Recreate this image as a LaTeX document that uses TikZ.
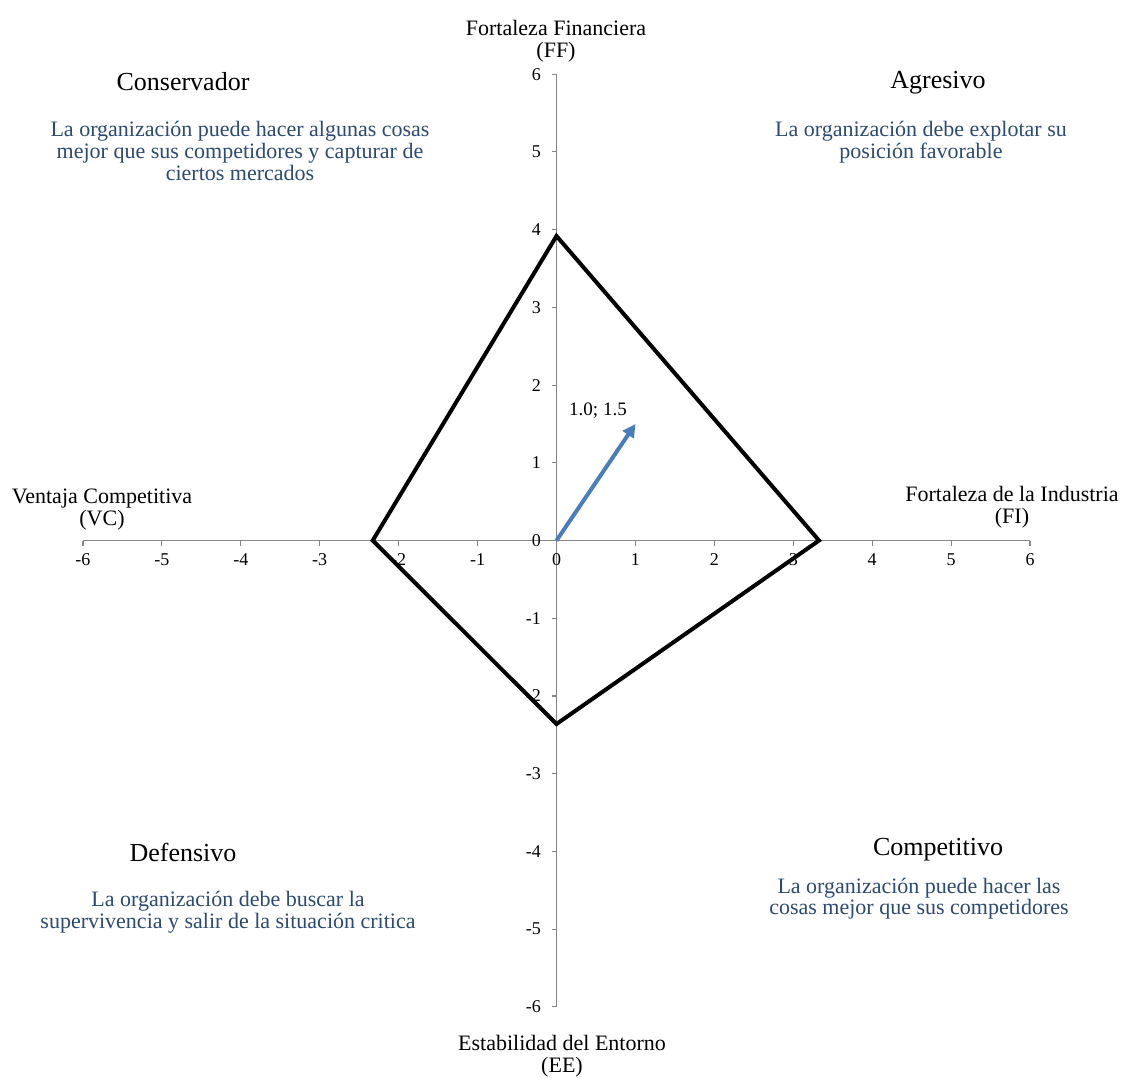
\documentclass[tikz,border=0pt]{standalone}
\usepackage{fontspec}
\setmainfont{Liberation Serif}
\usetikzlibrary{arrows.meta}
\definecolor{axisgray}{RGB}{134,134,134}
\definecolor{bodyblue}{RGB}{44,74,116}
\definecolor{arrowblue}{RGB}{74,126,187}
\begin{document}
\begin{tikzpicture}[x=1pt,y=-1pt,
  axisline/.style={draw=axisgray,line width=1.3pt},
  tickmark/.style={draw=axisgray,line width=1.1pt},
  ticklab/.style={font=\fontsize{18}{18}\selectfont,inner sep=0pt},
  axislabel/.style={font=\fontsize{22}{22}\selectfont,align=center,inner sep=0pt},
  quadtitle/.style={font=\fontsize{26}{26}\selectfont,inner sep=0pt,anchor=base},
  quadtext/.style={font=\fontsize{22}{22}\selectfont,align=center,inner sep=0pt,text=bodyblue},
  diamondline/.style={draw=black,line width=4pt,line join=miter},
  vecarrow/.style={draw=arrowblue,line width=4pt,-{Triangle[length=13pt,width=13pt]}}]
\fill[white] (0,0) rectangle (1123,1077);
\path[use as bounding box] (0,0) rectangle (1123,1077);

% axes
\coordinate (XL) at (83,540.5);
\coordinate (XR) at (1030,540.5);
\coordinate (YT) at (556.5,74);
\coordinate (YB) at (556.5,1006.7);
\draw[axisline] (XL) -- (XR);
\draw[axisline] (YT) -- (YB);

\foreach \i in {-6,...,6} {
  \draw[tickmark] ({556.5+\i*78.92},540.5) -- ++(0,5);
  \draw[tickmark] (556.5,{540.5-\i*77.72}) -- ++(-5,0);
  \node[ticklab] (xt\i) at ({556.5+\i*78.92},560) {\i};
  \node[ticklab,anchor=east] (yt\i) at (541,{540.5-\i*77.72}) {\i};
}

% axis labels
\node[axislabel] (ff) at (556,41) {Fortaleza Financiera\\(FF)};
\node[axislabel] (ee) at (562,1056) {Estabilidad del Entorno\\(EE)};
\node[axislabel] (vc) at (102,510) {Ventaja Competitiva\\(VC)};
\node[axislabel] (fi) at (1012,507) {Fortaleza de la Industria\\(FI)};

% quadrant titles
\node[quadtitle] (tcons) at (183,90) {Conservador};
\node[quadtitle] (tagr) at (938,88) {Agresivo};
\node[quadtitle] (tcomp) at (938,855) {Competitivo};
\node[quadtitle] (tdef) at (183,861) {Defensivo};

% quadrant texts
\node[quadtext] (bcons) at (240,151) {La organización puede hacer algunas cosas\\mejor que sus competidores y capturar de\\ciertos mercados};
\node[quadtext] (bagr) at (921,142) {La organización debe explotar su\\posición favorable};
\node[quadtext,font=\fontsize{22}{18}\selectfont] (bcomp) at (919,899) {La organización puede hacer las\\cosas mejor que sus competidores};
\node[quadtext] (bdef) at (228,912) {La organización debe buscar la\\supervivencia y salir de la situación critica};

% diamond
\coordinate (L) at (372.7,540.5);
\coordinate (T) at (556.5,236);
\coordinate (R) at (819,540.5);
\coordinate (B) at (556.5,724);
\draw[diamondline] (L) -- (T) -- (R) -- (B) -- cycle;

% vector
\coordinate (O) at (556.5,540.5);
\coordinate (P) at (635.4,424);
\draw[vecarrow] (O) -- (P);
\node[font=\fontsize{19}{19}\selectfont,inner sep=0pt,anchor=base] (vlab) at (598,415) {1.0; 1.5};
\end{tikzpicture}
\end{document}
